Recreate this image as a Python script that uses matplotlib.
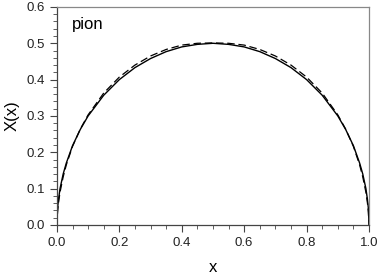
import matplotlib
matplotlib.use("Agg")
import matplotlib.pyplot as plt
from matplotlib.ticker import MultipleLocator

x_solid = [0.0, 0.002, 0.005, 0.01, 0.02, 0.03, 0.05, 0.075, 0.1, 0.15, 0.2, 0.25, 0.3, 0.35, 0.4, 0.45, 0.5,
           0.55, 0.6, 0.65, 0.7, 0.75, 0.8, 0.85, 0.9, 0.925, 0.95, 0.97, 0.98, 0.99, 0.995, 0.998, 1.0]
y_solid = [0.0, 0.045, 0.07, 0.1, 0.14, 0.17, 0.218, 0.263, 0.3, 0.357, 0.4, 0.433, 0.458, 0.477, 0.49, 0.497, 0.5,
           0.497, 0.49, 0.477, 0.458, 0.433, 0.4, 0.357, 0.3, 0.263, 0.218, 0.17, 0.14, 0.1, 0.07, 0.045, 0.0]

x_dash = [0.0, 0.002, 0.005, 0.01, 0.02, 0.03, 0.05, 0.075, 0.1, 0.15, 0.2, 0.25, 0.3, 0.35, 0.4, 0.45, 0.5,
          0.55, 0.6, 0.65, 0.7, 0.75, 0.8, 0.85, 0.9, 0.925, 0.95, 0.97, 0.98, 0.99, 0.995, 0.998, 1.0]
y_dash = [0.0, 0.035, 0.06, 0.09, 0.132, 0.165, 0.216, 0.264, 0.303, 0.363, 0.407, 0.44, 0.465, 0.483, 0.495, 0.5, 0.501,
          0.5, 0.495, 0.483, 0.465, 0.44, 0.407, 0.363, 0.303, 0.264, 0.216, 0.165, 0.132, 0.09, 0.06, 0.035, 0.0]

plt.rcParams['font.family'] = ['Liberation Sans', 'DejaVu Sans']

fig = plt.figure(figsize=(3.82, 2.78), dpi=100)
ax = fig.add_axes([0.149, 0.191, 0.817, 0.784])

ax.plot(x_solid, y_solid, color='black', lw=1.0)
ax.plot(x_dash, y_dash, color='black', lw=0.9, dashes=(6, 3))

ax.set_xlim(0, 1)
ax.set_ylim(0, 0.6)
ax.xaxis.set_major_locator(MultipleLocator(0.2))
ax.xaxis.set_minor_locator(MultipleLocator(0.05))
ax.yaxis.set_major_locator(MultipleLocator(0.1))
ax.yaxis.set_minor_locator(MultipleLocator(0.02))
ax.xaxis.set_major_formatter(matplotlib.ticker.FormatStrFormatter('%.1f'))
ax.yaxis.set_major_formatter(matplotlib.ticker.FormatStrFormatter('%.1f'))
ax.tick_params(which='major', direction='out', length=5, width=0.8, labelsize=9.5, color='#444444', labelcolor='#222222')
ax.tick_params(which='minor', direction='out', length=3, width=0.6, color='#444444')
ax.tick_params(axis='x', which='both', top=False)
ax.tick_params(axis='y', which='both', right=False)

for s in ['left', 'bottom']:
    ax.spines[s].set_color('#444444')
    ax.spines[s].set_linewidth(0.9)
for s in ['top', 'right']:
    ax.spines[s].set_color('#888888')
    ax.spines[s].set_linewidth(0.9)

ax.set_xlabel('x', fontsize=12, labelpad=8)
ax.set_ylabel('X(x)', fontsize=12, labelpad=5)
ax.text(0.048, 0.90, 'pion', transform=ax.transAxes, fontsize=12)

fig.savefig('out.png', dpi=100)
